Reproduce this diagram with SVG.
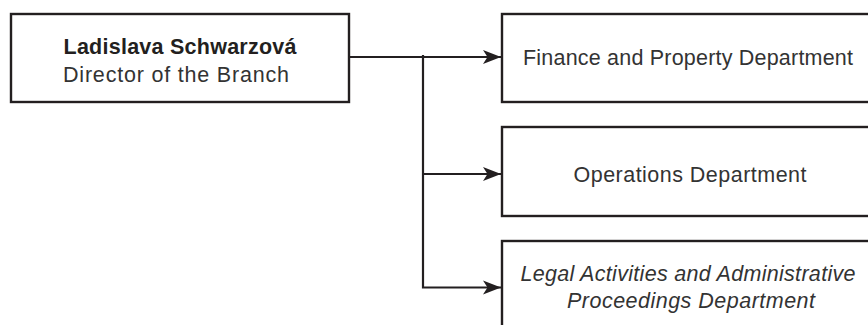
<svg xmlns="http://www.w3.org/2000/svg" width="868" height="325" viewBox="0 0 868 325">
<style>
.box{fill:#fff;stroke:#231f20;stroke-width:2.4}
.conn{fill:none;stroke:#231f20;stroke-width:2.2}
text{font-family:"Liberation Sans",Arial,sans-serif;font-size:21.5px;fill:#333;text-anchor:middle}
.b{font-weight:bold;fill:#231f20}
.i{font-style:italic}
</style>
<defs>
<marker id="arr" markerUnits="userSpaceOnUse" markerWidth="20" markerHeight="16" refX="18" refY="8" orient="auto">
<path d="M0,1 L18,8 L0,15 L4.5,8 Z" fill="#231f20"/>
</marker>
</defs>
<rect width="868" height="325" fill="#fff"/>
<g id="connectors">
<path class="conn" d="M349,57 H501" marker-end="url(#arr)"/>
<path class="conn" d="M423,55 V287.5 H501" marker-end="url(#arr)"/>
<path class="conn" d="M423,174 H501" marker-end="url(#arr)"/>
</g>
<g id="director">
<rect class="box" x="11" y="14" width="338" height="88"/>
<text class="b" x="180" y="54" textLength="233">Ladislava Schwarzová</text>
<text x="176" y="82" textLength="226">Director of the Branch</text>
</g>
<g id="finance">
<rect class="box" x="502" y="14" width="380" height="88"/>
<text x="688" y="65" textLength="330">Finance and Property Department</text>
</g>
<g id="operations">
<rect class="box" x="502" y="127" width="380" height="89"/>
<text x="690" y="182" textLength="233">Operations Department</text>
</g>
<g id="legal">
<rect class="box" x="502" y="241" width="380" height="100"/>
<text class="i" x="688" y="281" textLength="335">Legal Activities and Administrative</text>
<text class="i" x="691" y="308" textLength="248">Proceedings Department</text>
</g>
</svg>
